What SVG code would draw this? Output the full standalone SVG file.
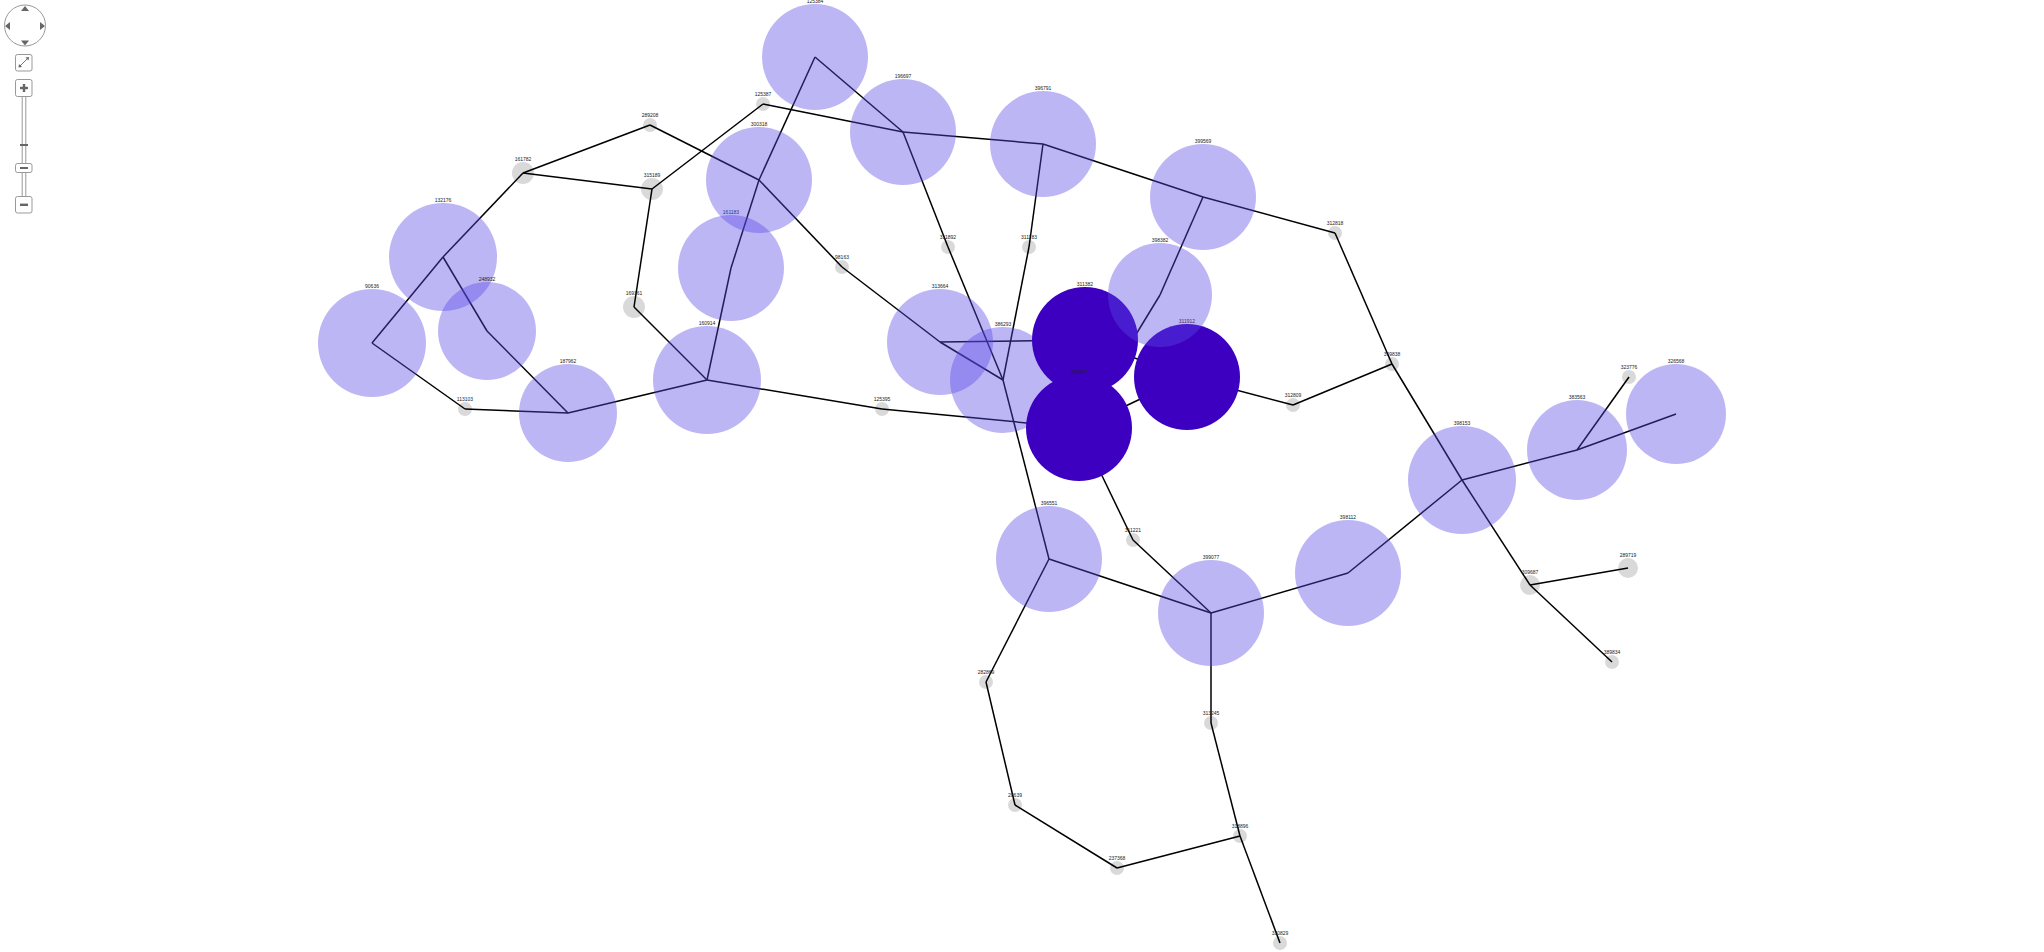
<svg xmlns="http://www.w3.org/2000/svg" width="2044" height="952" viewBox="0 0 2044 952">
<style>
.lt{fill:#5a48e6;fill-opacity:0.4}
.dk{fill:#3d00c0}
.gr{fill:#000;fill-opacity:0.15}
.lb{font-family:"Liberation Sans",Arial,sans-serif;font-size:5px;fill:#222;text-anchor:middle}
.e line{stroke:#000;stroke-width:1.5}
.cb{fill:#fff;stroke:#999;stroke-width:1}
.ic{fill:#666}
</style>
<rect width="2044" height="952" fill="#fff"/>
<g id="controls">
<circle class="cb" cx="25" cy="25.5" r="20.5"/>
<polygon class="ic" points="25,6 21,11 29,11"/>
<polygon class="ic" points="25,45.5 21,40.5 29,40.5"/>
<polygon class="ic" points="5,26 10,22 10,30"/>
<polygon class="ic" points="45,26 40,22 40,30"/>
<rect class="cb" x="15.5" y="54.5" width="16.5" height="16.5" rx="2"/>
<line x1="19.5" y1="66.5" x2="28" y2="58" stroke="#666" stroke-width="0.9"/>
<polygon class="ic" points="29,57 25.5,57.5 28.5,60.5"/>
<polygon class="ic" points="18.5,67.5 19,64 22,67"/>
<rect class="cb" x="15.5" y="79.5" width="16.5" height="17" rx="2"/>
<rect class="ic" x="20" y="86.8" width="8" height="2.4"/>
<rect class="ic" x="22.8" y="84" width="2.4" height="8"/>
<rect class="cb" x="22.2" y="96.5" width="3.6" height="67" stroke-width="0.8"/>
<rect class="cb" x="22.2" y="172.5" width="3.6" height="24" stroke-width="0.8"/>
<rect class="ic" x="20" y="144" width="8" height="2"/>
<rect class="cb" x="15.5" y="163.5" width="16.5" height="9" rx="2"/>
<rect class="ic" x="20" y="167" width="8" height="2"/>
<rect class="cb" x="15.5" y="196.5" width="16.5" height="16.5" rx="2"/>
<rect class="ic" x="20" y="203.6" width="8" height="2.4"/>
</g>
<g id="edges" class="e">
<line x1="523" y1="173" x2="650" y2="125"/>
<line x1="523" y1="173" x2="652" y2="189"/>
<line x1="650" y1="125" x2="759" y2="180"/>
<line x1="652" y1="189" x2="763" y2="104"/>
<line x1="763" y1="104" x2="903" y2="132"/>
<line x1="815" y1="57" x2="903" y2="132"/>
<line x1="815" y1="57" x2="759" y2="180"/>
<line x1="759" y1="180" x2="731" y2="268"/>
<line x1="731" y1="268" x2="707" y2="380"/>
<line x1="759" y1="180" x2="842" y2="267"/>
<line x1="842" y1="267" x2="940" y2="342"/>
<line x1="652" y1="189" x2="634" y2="307"/>
<line x1="634" y1="307" x2="707" y2="380"/>
<line x1="523" y1="173" x2="443" y2="257"/>
<line x1="443" y1="257" x2="372" y2="343"/>
<line x1="443" y1="257" x2="487" y2="331"/>
<line x1="487" y1="331" x2="568" y2="413"/>
<line x1="372" y1="343" x2="465" y2="409"/>
<line x1="465" y1="409" x2="568" y2="413"/>
<line x1="568" y1="413" x2="707" y2="380"/>
<line x1="707" y1="380" x2="882" y2="409"/>
<line x1="882" y1="409" x2="1079" y2="428"/>
<line x1="903" y1="132" x2="1043" y2="144"/>
<line x1="903" y1="132" x2="948" y2="247"/>
<line x1="948" y1="247" x2="1003" y2="380"/>
<line x1="1043" y1="144" x2="1029" y2="247"/>
<line x1="1029" y1="247" x2="1003" y2="380"/>
<line x1="1043" y1="144" x2="1203" y2="197"/>
<line x1="1203" y1="197" x2="1335" y2="233"/>
<line x1="1203" y1="197" x2="1160" y2="295"/>
<line x1="1160" y1="295" x2="1079" y2="428"/>
<line x1="940" y1="342" x2="1003" y2="380"/>
<line x1="940" y1="342" x2="1085" y2="340"/>
<line x1="1085" y1="340" x2="1187" y2="377"/>
<line x1="1079" y1="428" x2="1187" y2="377"/>
<line x1="1079" y1="428" x2="1133" y2="540"/>
<line x1="1133" y1="540" x2="1211" y2="613"/>
<line x1="1003" y1="380" x2="1049" y2="559"/>
<line x1="1049" y1="559" x2="986" y2="682"/>
<line x1="1049" y1="559" x2="1211" y2="613"/>
<line x1="1335" y1="233" x2="1392" y2="364"/>
<line x1="1392" y1="364" x2="1293" y2="405"/>
<line x1="1293" y1="405" x2="1187" y2="377"/>
<line x1="1392" y1="364" x2="1462" y2="480"/>
<line x1="1462" y1="480" x2="1530" y2="585"/>
<line x1="1530" y1="585" x2="1612" y2="662"/>
<line x1="1530" y1="585" x2="1628" y2="568"/>
<line x1="1462" y1="480" x2="1577" y2="450"/>
<line x1="1577" y1="450" x2="1629" y2="377"/>
<line x1="1577" y1="450" x2="1676" y2="414"/>
<line x1="1462" y1="480" x2="1348" y2="573"/>
<line x1="1348" y1="573" x2="1211" y2="613"/>
<line x1="1211" y1="613" x2="1211" y2="723"/>
<line x1="1211" y1="723" x2="1240" y2="836"/>
<line x1="1240" y1="836" x2="1280" y2="943"/>
<line x1="1240" y1="836" x2="1117" y2="868"/>
<line x1="1117" y1="868" x2="1015" y2="805"/>
<line x1="1015" y1="805" x2="986" y2="682"/>
</g>
<g id="n125384"><circle class="lt" cx="815" cy="57" r="53"/><text class="lb" x="815" y="3">125384</text></g>
<g id="n125387"><circle class="gr" cx="763" cy="104" r="7"/><text class="lb" x="763" y="96">125387</text></g>
<g id="n289208"><circle class="gr" cx="650" cy="125" r="7"/><text class="lb" x="650" y="117">289208</text></g>
<g id="n161782"><circle class="gr" cx="523" cy="173" r="11"/><text class="lb" x="523" y="161">161782</text></g>
<g id="n315189"><circle class="gr" cx="652" cy="189" r="11"/><text class="lb" x="652" y="177">315189</text></g>
<g id="n161183"><circle class="lt" cx="731" cy="268" r="53"/><text class="lb" x="731" y="214">161183</text></g>
<g id="n300318"><circle class="lt" cx="759" cy="180" r="53"/><text class="lb" x="759" y="126">300318</text></g>
<g id="n98163"><circle class="gr" cx="842" cy="267" r="7"/><text class="lb" x="842" y="259">98163</text></g>
<g id="n169361"><circle class="gr" cx="634" cy="307" r="11"/><text class="lb" x="634" y="295">169361</text></g>
<g id="n132176"><circle class="lt" cx="443" cy="257" r="54"/><text class="lb" x="443" y="202">132176</text></g>
<g id="n248932"><circle class="lt" cx="487" cy="331" r="49"/><text class="lb" x="487" y="281">248932</text></g>
<g id="n90636"><circle class="lt" cx="372" cy="343" r="54"/><text class="lb" x="372" y="288">90636</text></g>
<g id="n113103"><circle class="gr" cx="465" cy="409" r="7"/><text class="lb" x="465" y="401">113103</text></g>
<g id="n187962"><circle class="lt" cx="568" cy="413" r="49"/><text class="lb" x="568" y="363">187962</text></g>
<g id="n160914"><circle class="lt" cx="707" cy="380" r="54"/><text class="lb" x="707" y="325">160914</text></g>
<g id="n125395"><circle class="gr" cx="882" cy="409" r="7"/><text class="lb" x="882" y="401">125395</text></g>
<g id="n196697"><circle class="lt" cx="903" cy="132" r="53"/><text class="lb" x="903" y="78">196697</text></g>
<g id="n396791"><circle class="lt" cx="1043" cy="144" r="53"/><text class="lb" x="1043" y="90">396791</text></g>
<g id="n399569"><circle class="lt" cx="1203" cy="197" r="53"/><text class="lb" x="1203" y="143">399569</text></g>
<g id="n311892"><circle class="gr" cx="948" cy="247" r="7"/><text class="lb" x="948" y="239">311892</text></g>
<g id="n311183"><circle class="gr" cx="1029" cy="247" r="7"/><text class="lb" x="1029" y="239">311183</text></g>
<g id="n312818"><circle class="gr" cx="1335" cy="233" r="7"/><text class="lb" x="1335" y="225">312818</text></g>
<g id="n313664"><circle class="lt" cx="940" cy="342" r="53"/><text class="lb" x="940" y="288">313664</text></g>
<g id="n386293"><circle class="lt" cx="1003" cy="380" r="53"/><text class="lb" x="1003" y="326">386293</text></g>
<g id="n311382"><circle class="dk" cx="1085" cy="340" r="53"/><text class="lb" x="1085" y="286">311382</text></g>
<g id="n311912"><circle class="dk" cx="1187" cy="377" r="53"/><text class="lb" x="1187" y="323">311912</text></g>
<g id="n398382"><circle class="lt" cx="1160" cy="295" r="52"/><text class="lb" x="1160" y="242">398382</text></g>
<g id="n386827"><circle class="dk" cx="1079" cy="428" r="53"/><text class="lb" x="1079" y="374">386827</text></g>
<g id="n396551"><circle class="lt" cx="1049" cy="559" r="53"/><text class="lb" x="1049" y="505">396551</text></g>
<g id="n311221"><circle class="gr" cx="1133" cy="540" r="7"/><text class="lb" x="1133" y="532">311221</text></g>
<g id="n399077"><circle class="lt" cx="1211" cy="613" r="53"/><text class="lb" x="1211" y="559">399077</text></g>
<g id="n398112"><circle class="lt" cx="1348" cy="573" r="53"/><text class="lb" x="1348" y="519">398112</text></g>
<g id="n312809"><circle class="gr" cx="1293" cy="405" r="7"/><text class="lb" x="1293" y="397">312809</text></g>
<g id="n399838"><circle class="gr" cx="1392" cy="364" r="7"/><text class="lb" x="1392" y="356">399838</text></g>
<g id="n398153"><circle class="lt" cx="1462" cy="480" r="54"/><text class="lb" x="1462" y="425">398153</text></g>
<g id="n383563"><circle class="lt" cx="1577" cy="450" r="50"/><text class="lb" x="1577" y="399">383563</text></g>
<g id="n323776"><circle class="gr" cx="1629" cy="377" r="7"/><text class="lb" x="1629" y="369">323776</text></g>
<g id="n326568"><circle class="lt" cx="1676" cy="414" r="50"/><text class="lb" x="1676" y="363">326568</text></g>
<g id="n289719"><circle class="gr" cx="1628" cy="568" r="10"/><text class="lb" x="1628" y="557">289719</text></g>
<g id="n309687"><circle class="gr" cx="1530" cy="585" r="10"/><text class="lb" x="1530" y="574">309687</text></g>
<g id="n389834"><circle class="gr" cx="1612" cy="662" r="7"/><text class="lb" x="1612" y="654">389834</text></g>
<g id="n282869"><circle class="gr" cx="986" cy="682" r="7"/><text class="lb" x="986" y="674">282869</text></g>
<g id="n28639"><circle class="gr" cx="1015" cy="805" r="7"/><text class="lb" x="1015" y="797">28639</text></g>
<g id="n237368"><circle class="gr" cx="1117" cy="868" r="7"/><text class="lb" x="1117" y="860">237368</text></g>
<g id="n313245"><circle class="gr" cx="1211" cy="723" r="7"/><text class="lb" x="1211" y="715">313245</text></g>
<g id="n318896"><circle class="gr" cx="1240" cy="836" r="7"/><text class="lb" x="1240" y="828">318896</text></g>
<g id="n330829"><circle class="gr" cx="1280" cy="943" r="7"/><text class="lb" x="1280" y="935">330829</text></g>
</svg>
